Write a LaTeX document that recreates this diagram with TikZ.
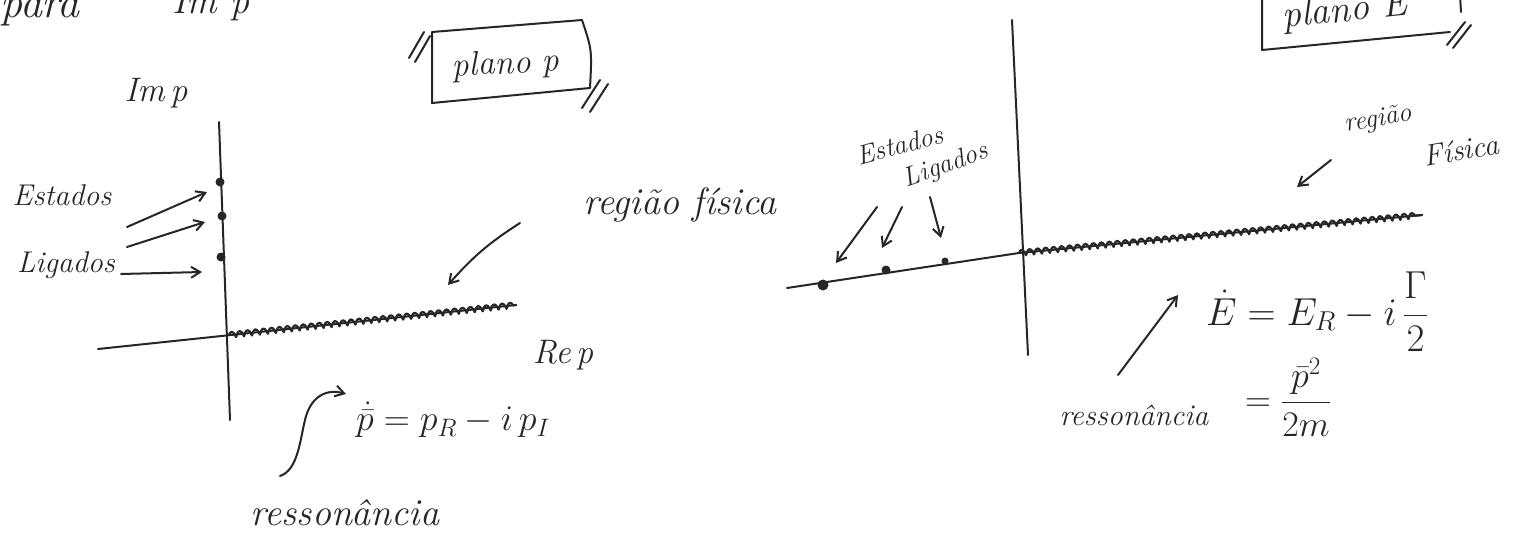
\RequirePackage{fix-cm}
\documentclass[tikz,border=0pt]{standalone}
\usepackage{amsmath}
\usetikzlibrary{arrows.meta,decorations.pathmorphing}
\begin{document}
\begin{tikzpicture}[x=1pt,y=-1pt,
  ink/.style={line width=2pt,draw=black!85,line cap=round,line join=round},
  arr/.style={ink,-{Straight Barb[length=9pt,width=11pt,line width=2pt]}},
  hatch/.style={ink,line width=2.2pt,decorate,decoration={coil,aspect=0.3,amplitude=2.8pt,segment length=8pt}},
  hw/.style={font=\fontsize{30}{34}\selectfont\itshape,text=black!85,inner sep=0pt},
  hwl/.style={font=\fontsize{38}{42}\selectfont\itshape,text=black!85,inner sep=0pt},
  hws/.style={font=\fontsize{27}{30}\selectfont\itshape,text=black!85,inner sep=0pt},
  mth/.style={font=\fontsize{36}{40}\selectfont,text=black!85,inner sep=0pt},
  dotn/.style={circle,fill=black!85,inner sep=0pt,minimum size=#1},
  dotn/.default=9pt]
\useasboundingbox (0,0) rectangle (1526,540);
\clip (0,0) rectangle (1526,540);

% ---------- top cut text ----------
\node[hwl,font=\fontsize{44}{48}\selectfont\itshape,anchor=base west] (para) at (0,18) {para};
\node[hwl,anchor=base west] (imtop) at (172,14) {Im p};

% ---------- left: plano p ----------
\node[hw,font=\fontsize{34}{38}\selectfont\itshape,rotate=3] (planop) at (506,65) {plano p};
\draw[ink] (432,32) -- (582,20) .. controls (592,50) .. (590,88) -- (432,103) -- cycle;
\draw[ink] (409,58) -- (424,32);
\draw[ink] (415,62) -- (430,36);
\draw[ink] (582,108) -- (600,80);
\draw[ink] (590,112) -- (608,84);

\node[hw,font=\fontsize{34}{38}\selectfont\itshape] (imp) at (156,93) {Im\,p};
\coordinate (vt) at (219,122);
\coordinate (vb) at (230,420);
\draw[ink] (vt) -- (vb);
\coordinate (hl) at (98,349);
\coordinate (o) at (229,335);
\coordinate (hr) at (516,305);
\draw[ink] (hl) -- (hr);
\draw[hatch] (o) -- (hr);
\node[dotn] (d1) at (220,182) {};
\node[dotn] (d2) at (222,216) {};
\node[dotn] (d3) at (221,257) {};

\node[hw] (estL) at (62,195) {Estados};
\node[hw] (ligL) at (66,265) {Ligados};
\coordinate (a1s) at (127,227); \coordinate (a1e) at (207,192);
\coordinate (a2s) at (127,247); \coordinate (a2e) at (205,222);
\coordinate (a3s) at (121,274); \coordinate (a3e) at (202,272);
\draw[arr] (a1s) -- (a1e);
\draw[arr] (a2s) -- (a2e);
\draw[arr] (a3s) -- (a3e);

\node[hwl] (regL) at (680,205) {região física};
\coordinate (rLs) at (520,223); \coordinate (rLe) at (448,285);
\draw[arr] (rLs) to[bend right=8] (rLe);

\node[hw,font=\fontsize{34}{38}\selectfont\itshape] (rep) at (563,355) {Re\,p};
\node[mth,anchor=west] (pform) at (356,420) {$\dot{\bar{p}} = p_R - i\,p_I$};
\coordinate (cS) at (280,476);
\coordinate (cE) at (346,394);
\draw[arr] (cS) .. controls (298,470) and (300,440) .. (305,420) .. controls (310,398) and (325,388) .. (cE);
\node[hwl] (resL) at (345,513) {ressonância};

% ---------- right: plano E ----------
\node[hwl,anchor=base west,rotate=6] (planoE) at (1283,28) {plano E};
\draw[ink] (1262,-5) -- (1262,50) -- (1450,32);
\draw[ink] (1460,-5) -- (1461,12);
\draw[ink] (1447,45) -- (1465,22);
\draw[ink] (1453,48) -- (1471,25);

\coordinate (Vt) at (1012,20);
\coordinate (Vb) at (1028,355);
\draw[ink] (Vt) -- (Vb);
\coordinate (Hl) at (787,288);
\coordinate (O) at (1019,253);
\coordinate (Hr) at (1422,215);
\draw[ink] (Hl) -- (O);
\draw[ink] (O) -- (Hr);
\draw[hatch] (O) -- (Hr);
\node[dotn=11pt] (e1) at (823,285) {};
\node[dotn=9pt] (e2) at (886,270) {};
\node[dotn=7pt] (e3) at (945,261) {};

\node[hws,rotate=15] (estR) at (900,145) {Estados};
\node[hws,rotate=20] (ligR) at (946,166) {Ligados};
\coordinate (b1s) at (877,207); \coordinate (b1e) at (836,263);
\coordinate (b2s) at (902,207); \coordinate (b2e) at (882,248);
\coordinate (b3s) at (930,197); \coordinate (b3e) at (941,238);
\draw[arr] (b1s) -- (b1e);
\draw[arr] (b2s) -- (b2e);
\draw[arr] (b3s) -- (b3e);

\node[hws,rotate=10] (regR1) at (1378,120) {região};
\node[hws,font=\fontsize{30}{34}\selectfont\itshape,rotate=10] (regR2) at (1461,150) {Física};
\coordinate (rRs) at (1331,160); \coordinate (rRe) at (1297,187);
\draw[arr] (rRs) -- (rRe);

\node[mth,font=\fontsize{39}{43}\selectfont,anchor=west] (Eform) at (1206,312) {$\dot{E} = E_R - i\,\dfrac{\Gamma}{2}$};
\node[mth,anchor=west] (Eform2) at (1245,397) {$=\dfrac{\bar{p}^{2}}{2m}$};
\coordinate (qS) at (1118,375);
\coordinate (qE) at (1178,295);
\draw[arr] (qS) -- (qE);
\node[hw] (resR) at (1134,415) {ressonância};
\end{tikzpicture}
\end{document}
